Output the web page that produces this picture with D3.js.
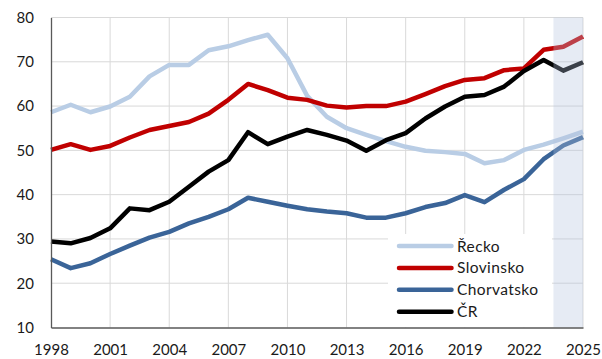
<!DOCTYPE html>
<html>
<head>
<meta charset="utf-8">
<script src="https://cdn.jsdelivr.net/npm/d3@7"></script>
<style>
  html, body { margin: 0; padding: 0; background: #fff; }
  svg { display: block; }
  text { font-family: Lato, "Open Sans", sans-serif; fill: #1a1a1a; }
</style>
</head>
<body>
<svg id="chart" width="602" height="359"></svg>
<script>
// Years on the horizontal axis
const years = d3.range(1998, 2026);
const tickYears = [1998, 2001, 2004, 2007, 2010, 2013, 2016, 2019, 2022, 2025];
const yTicks = [10, 20, 30, 40, 50, 60, 70, 80];

// Series values per year (1998–2025)
const recko = [58.6, 60.3, 58.6, 59.9, 62.1, 66.7, 69.3, 69.3, 72.6, 73.5, 74.9, 76.1, 70.8, 62.3,
               57.6, 55.0, 53.5, 52.1, 50.8, 49.9, 49.6, 49.2, 47.1, 47.8, 50.1, 51.3, 52.7, 54.2];
const slovinsko = [50.1, 51.4, 50.1, 51.0, 52.9, 54.6, 55.5, 56.4, 58.3, 61.4, 65.0, 63.6, 61.9, 61.4,
                   60.1, 59.7, 60.0, 60.0, 61.0, 62.7, 64.5, 65.9, 66.3, 68.1, 68.5, 72.7, 73.4, 75.7];
const chorvatsko = [25.4, 23.4, 24.5, 26.6, 28.5, 30.3, 31.6, 33.5, 35.0, 36.7, 39.3, 38.4, 37.5, 36.7,
                    36.2, 35.8, 34.8, 34.8, 35.8, 37.2, 38.1, 39.9, 38.3, 41.1, 43.5, 48.0, 51.1, 53.0];
const cr = [29.4, 29.0, 30.2, 32.4, 36.9, 36.5, 38.4, 41.8, 45.2, 47.8, 54.1, 51.4, 53.1, 54.6,
            53.5, 52.2, 49.9, 52.3, 53.9, 57.2, 59.9, 62.1, 62.5, 64.4, 67.9, 70.4, 68.0, 69.9];

const seriesNames = ["Řecko", "Slovinsko", "Chorvatsko", "ČR"];
const seriesValues = [recko, slovinsko, chorvatsko, cr];
const seriesColors = ["#b9cde5", "#c00000", "#3a6498", "#000000"];

// Forecast period (shaded)
const forecastStart = 2023.5, forecastEnd = 2025;

const svg = d3.select("#chart");
const m = { left: 51, right: 19, top: 17.5, bottom: 31.5 };
const W = 602, H = 359;

const x = d3.scaleLinear().domain([1998, 2025]).range([m.left, W - m.right]);
const y = d3.scaleLinear().domain([10, 80]).range([H - m.bottom, m.top]);

// Gridlines
svg.append("g")
  .selectAll("line.h")
  .data(yTicks.filter(d => d > 10))
  .join("line")
  .attr("x1", x(1998)).attr("x2", x(2025))
  .attr("y1", d => y(d)).attr("y2", d => y(d))
  .attr("stroke", "#d9d9d9").attr("stroke-width", 1);

svg.append("g")
  .selectAll("line.v")
  .data(tickYears.filter(d => d > 1998))
  .join("line")
  .attr("x1", d => x(d)).attr("x2", d => x(d))
  .attr("y1", y(80)).attr("y2", y(10))
  .attr("stroke", "#d9d9d9").attr("stroke-width", 1);

// Lines
const line = d3.line()
  .x((d, i) => x(years[i]))
  .y(d => y(d));

svg.append("g")
  .selectAll("path")
  .data(seriesValues)
  .join("path")
  .attr("d", d => line(d))
  .attr("fill", "none")
  .attr("stroke", (d, i) => seriesColors[i])
  .attr("stroke-width", 4.5)
  .attr("stroke-linejoin", "round")
  .attr("stroke-linecap", "butt");

// Legend box
const lg = { x: 388, y: 234, w: 164, h: 93 };
svg.append("rect")
  .attr("x", lg.x).attr("y", lg.y)
  .attr("width", lg.w).attr("height", lg.h)
  .attr("fill", "#ffffff");

const legendRows = svg.append("g")
  .selectAll("g")
  .data(seriesNames)
  .join("g")
  .attr("transform", (d, i) => `translate(399, ${246 + i * 21.9})`);

legendRows.append("line")
  .attr("x1", 0).attr("x2", 52.5)
  .attr("y1", 0).attr("y2", 0)
  .attr("stroke", (d, i) => seriesColors[i])
  .attr("stroke-width", 4.5)
  .attr("stroke-linecap", "round");

legendRows.append("text")
  .attr("x", 58).attr("y", 0)
  .attr("dy", "0.36em")
  .attr("font-size", 15.5)
  .attr("letter-spacing", 0.4)
  .text(d => d);

// Forecast shading drawn over the lines
svg.append("rect")
  .attr("x", x(forecastStart)).attr("y", y(80))
  .attr("width", x(forecastEnd) - x(forecastStart))
  .attr("height", y(10) - y(80))
  .attr("fill", "#b3c3de")
  .attr("fill-opacity", 0.33);

// Axes
const yAxis = d3.axisLeft(y).tickValues(yTicks).tickSize(0).tickPadding(17);
const gy = svg.append("g").attr("transform", `translate(${m.left},0)`).call(yAxis);
gy.select(".domain").attr("stroke", "#595959").attr("stroke-width", 1.3);
gy.selectAll("text").attr("font-size", 15).style("font-family", "Lato, 'Open Sans', sans-serif").attr("fill", "#1a1a1a");

const xAxis = d3.axisBottom(x).tickValues(tickYears).tickFormat(d3.format("d")).tickSize(0).tickPadding(17);
const gx = svg.append("g").attr("transform", `translate(0,${y(10)})`).call(xAxis);
gx.select(".domain").attr("stroke", "#595959").attr("stroke-width", 1.3);
gx.selectAll("text").attr("font-size", 15).style("font-family", "Lato, 'Open Sans', sans-serif").attr("fill", "#1a1a1a");
</script>
</body>
</html>
